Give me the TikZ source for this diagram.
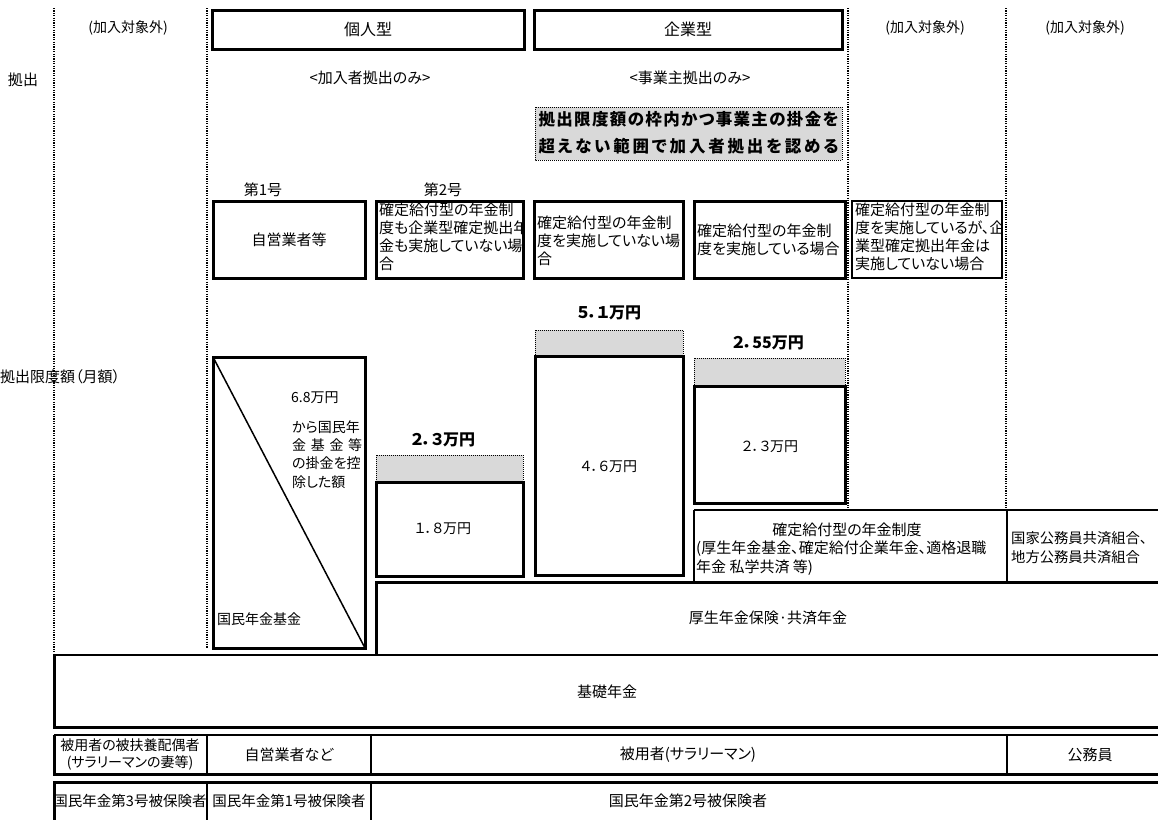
\documentclass[tikz,border=0pt]{standalone}
\usepackage{fontspec}
\setmainfont{Noto Sans CJK JP}[RawFeature=+palt]
\definecolor{lg}{RGB}{217,217,217}
\def\sprloop#1{\ifx\relax#1\else#1\hfill\expandafter\sprloop\fi}
\newcommand\spreadto[2]{\makebox[#1][s]{\sprloop#2\relax\unskip}}
\begin{document}
\begin{tikzpicture}[x=1pt,y=-1pt,
  tbox/.style={draw,line width=3pt},
  mline/.style={line width=2pt},
  nline/.style={line width=1.1pt},
  gbox/.style={draw,fill=lg,line width=1pt,dash pattern=on 1pt off 1pt},
  vdot/.style={line width=1.6pt,dash pattern=on 1.2pt off 1.2pt},
  txt/.style={inner sep=0pt,font=\fontsize{14}{18}\selectfont},
  btxt/.style={inner sep=0pt,align=left,font=\fontsize{15}{18}\selectfont},
  amt/.style={inner sep=0pt,font=\fontsize{16}{18}\selectfont\bfseries},
  num/.style={inner sep=0pt,font=\fontsize{14}{18}\selectfont},
]
\useasboundingbox (0,0) rectangle (1158,819);
\clip (0,0) rectangle (1158,819);

% dotted column separators
\draw[vdot] (54,8) -- (54,655);
\draw[vdot] (207,8) -- (207,648);
\draw[vdot] (848,8) -- (848,510);
\draw[vdot] (1006,8) -- (1006,510);

% header
\draw[tbox] (212,10) rectangle (524,49);
\draw[tbox] (534,10) rectangle (842,49);
\node[txt] (ex1) at (128,28) {(加入対象外)};
\node[txt] (ex2) at (925,28) {(加入対象外)};
\node[txt] (ex3) at (1085,28) {(加入対象外)};
\node[btxt,font=\fontsize{16}{18}\selectfont] (kojin) at (368,29) {個人型};
\node[btxt,font=\fontsize{16}{18}\selectfont] (kigyo) at (688,29) {企業型};
\node[txt,font=\fontsize{15}{18}\selectfont] (kyoshutsu) at (23,80) {拠出};
\node[txt,font=\fontsize{15}{18}\selectfont] (kanyu) at (370,78) {<加入者拠出のみ>};
\node[txt,font=\fontsize{15}{18}\selectfont] (jigyo) at (690,78) {<事業主拠出のみ>};

% gray note
\draw[gbox] (535,107) rectangle (842,160);
\node[amt,font=\fontsize{16.5}{18}\selectfont\bfseries] (note1) at (688.5,119) {\spreadto{300pt}{拠出限度額の枠内かつ事業主の掛金を}};
\node[amt,font=\fontsize{16.5}{18}\selectfont\bfseries] (note2) at (688.5,146) {\spreadto{300pt}{超えない範囲で加入者拠出を認める}};

\node[txt,font=\fontsize{15}{18}\selectfont] (dai1) at (263,190) {第1号};
\node[txt,font=\fontsize{15}{18}\selectfont] (dai2) at (443,190) {第2号};

% category boxes
\draw[tbox] (213,201) rectangle (365,278);
\node[btxt] (b1t) at (289,240) {自営業者等};

\draw[tbox] (376,201) rectangle (523,278);
\begin{scope}
\clip (377.5,202.5) rectangle (521.5,276.5);
\node[btxt,anchor=north west] (b2t) at (379,203) {確定給付型の年金制\\度も企業型確定拠出年\\金も実施していない場\\合};
\end{scope}

\draw[tbox] (534,201) rectangle (683,278);
\begin{scope}
\clip (535.5,202.5) rectangle (681.5,276.5);
\node[btxt,anchor=west] (b3t) at (537,241) {確定給付型の年金制\\度を実施していない場\\合};
\end{scope}

\draw[tbox] (694,201) rectangle (845,278);
\begin{scope}
\clip (695.5,202.5) rectangle (843.5,276.5);
\node[btxt,anchor=west] (b4t) at (697,240) {確定給付型の年金制\\度を実施している場合};
\end{scope}

\draw[mline] (852,201) rectangle (1002,278);
\begin{scope}
\clip (853,202) rectangle (1001,277);
\node[btxt,anchor=north west] (b5t) at (855,203) {確定給付型の年金制\\度を実施しているが、企\\業型確定拠出年金は\\実施していない場合};
\end{scope}

% limits
\node[txt,anchor=west,font=\fontsize{15}{18}\selectfont] (gendo) at (0,377) {拠出限度額（月額）};

% national pension fund column
\draw[tbox] (213,357) rectangle (365,648);
\draw[line width=1.5pt] (213,357) -- (365,648);
\node[txt,anchor=west] (k1) at (291,398) {6.8万円};
\node[txt,anchor=west] (k2) at (292,427) {から国民年};
\node[txt,anchor=west] (k3) at (292,445) {\spreadto{70pt}{金基金等}};
\node[txt,anchor=west] (k4) at (292,463) {の掛金を控};
\node[txt,anchor=west] (k5) at (292,482) {除した額};
\node[txt,anchor=west] (kikin) at (217,619) {国民年金基金};

% type 2 individual
\node[amt] (a23) at (443,440) {２．３万円};
\draw[gbox] (376,455) rectangle (523,482);
\draw[tbox] (376,482) rectangle (523,576);
\node[num] (n18) at (443,529) {１．８万円};

% corporate without DB
\node[amt] (a51) at (609,313) {５．１万円};
\draw[gbox] (535,330) rectangle (683,356);
\draw[tbox] (535,356) rectangle (683,575);
\node[num] (n46) at (609,467) {４．６万円};

% corporate with DB
\node[amt] (a255) at (768,343) {２．55万円};
\draw[gbox] (694,358) rectangle (845,386);
\draw[tbox] (694,386) rectangle (845,503);
\node[num] (n23) at (770,447) {２．３万円};

% DB plans and mutual aid
\draw[nline] (694,582) -- (694,510);
\draw[mline] (694,510) -- (1165,510);
\draw[mline] (1007,510) -- (1007,582);
\node[btxt] (db1) at (847,530) {確定給付型の年金制度};
\node[btxt,anchor=west] (db2) at (696,549) {(厚生年金基金、確定給付企業年金、適格退職};
\node[btxt,anchor=west] (db3) at (696,568) {年金 私学共済 等)};
\node[btxt,anchor=west,font=\fontsize{14.3}{18}\selectfont] (kk1) at (1011,538) {国家公務員共済組合、};
\node[btxt,anchor=west,font=\fontsize{14.3}{18}\selectfont] (kk2) at (1011,557) {地方公務員共済組合};

% employees' pension
\draw[line width=3pt] (376,655) -- (376,582) -- (1165,582);
\node[btxt] (kosei) at (768,618) {厚生年金保険·共済年金};

% basic pension
\draw[nline] (54,655) -- (1165,655);
\draw[line width=3pt] (54,655) -- (54,727) -- (1165,727);
\node[btxt] (kiso) at (607,692) {基礎年金};

% row 1
\draw[nline] (54,735) -- (1165,735);
\draw[line width=3pt] (54,735) -- (54,774) -- (1165,774);
\draw[mline] (207,735) -- (207,774);
\draw[mline] (371,735) -- (371,774);
\draw[nline] (1007,735) -- (1007,774);
\node[txt] (r1a) at (130,745) {被用者の被扶養配偶者};
\node[txt] (r1b) at (130,763) {(サラリーマンの妻等)};
\node[btxt] (r1c) at (289,755) {自営業者など};
\node[btxt] (r1d) at (688,755) {被用者(サラリーマン)};
\node[btxt] (r1e) at (1090,755) {公務員};

% row 2
\draw[line width=3pt] (54,830) -- (54,782) -- (1165,782);
\draw[mline] (207,782) -- (207,830);
\draw[mline] (371,782) -- (371,830);
\node[txt,font=\fontsize{14.5}{18}\selectfont] (r2a) at (130,801) {国民年金第3号被保険者};
\node[txt,font=\fontsize{14.5}{18}\selectfont] (r2b) at (289,801) {国民年金第1号被保険者};
\node[btxt] (r2c) at (688,801) {国民年金第2号被保険者};
\end{tikzpicture}
\end{document}
